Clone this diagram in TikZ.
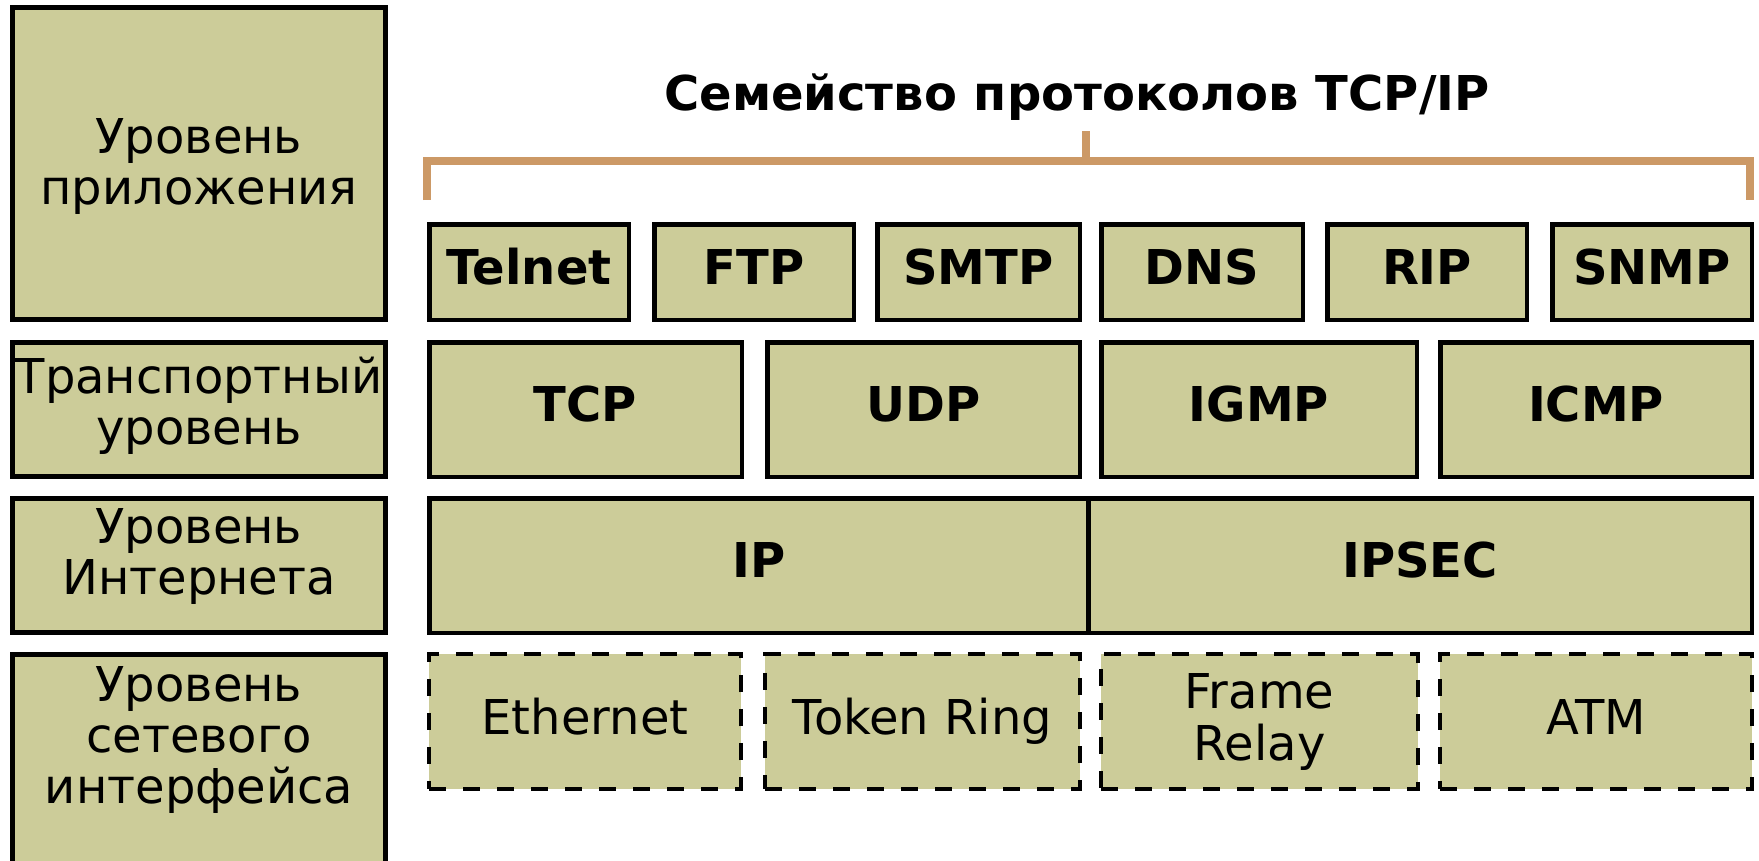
\documentclass[tikz,border=0pt]{standalone}
\usepackage{fontspec}
\setmainfont{DejaVu Sans}
\definecolor{boxfill}{HTML}{CCCC99}
\definecolor{bracecol}{HTML}{CC9966}
\tikzset{
  basebox/.style={draw=black, fill=boxfill, line width=4.5pt, inner sep=0pt, outer sep=0pt},
  layerbox/.style={basebox, line width=5pt},
  protobox/.style={basebox, font=\fontsize{48}{51}\bfseries\selectfont, text height=35pt, text depth=11pt},
  linkbox/.style={basebox, line width=4pt, dash pattern=on 17pt off 17pt, font=\fontsize{48}{52}\selectfont, align=center},
  layertext/.style={font=\fontsize{48}{51}\selectfont, align=center, inner sep=0pt},
  bracketline/.style={draw=bracecol, line width=8pt},
}
\newcommand\pbox[7]{%
  \node[#1, minimum width={#5-#3-4.5}, minimum height={#6-#4-4.5}] (#2) at ({(#3+#5)/2},{(#4+#6)/2}) {#7};}
\begin{document}
\begin{tikzpicture}[x=1pt, y=-1pt]
\useasboundingbox (0,0) rectangle (1759,860);
% left column
\pbox{layerbox}{lapp}{10}{5}{388}{322}{}
\pbox{layerbox}{ltrans}{10}{340}{388}{479}{}
\pbox{layerbox}{linet}{10}{496}{388}{635}{}
\pbox{layerbox}{lnet}{10}{652}{388}{900}{}
\node[layertext] (tapp) at (199,166.7) {Уровень\\приложения};
\node[layertext] (ttrans) at (199,406.2) {Транспортный\\уровень};
\node[layertext] (tinet) at (199,556.7) {Уровень\\Интернета};
\node[layertext] (tnet) at (199,740.2) {Уровень\\сетевого\\интерфейса};
% title and bracket
\node[font=\fontsize{48}{51}\bfseries\selectfont, anchor=base, inner sep=0pt] (title) at (1077,110) {Семейство протоколов TCP/IP};
\coordinate (bl) at (427,200);
\coordinate (blt) at (427,161);
\coordinate (brt) at (1750,161);
\coordinate (br) at (1750,200);
\coordinate (bm) at (1086,161);
\coordinate (bmt) at (1086,131);
\draw[bracketline] (bl) -- (blt) -- (brt) -- (br);
\draw[bracketline] (bm) -- (bmt);
% application protocols
\pbox{protobox}{telnet}{427}{222}{631}{322}{Telnet}
\pbox{protobox}{ftp}{652}{222}{856}{322}{FTP}
\pbox{protobox}{smtp}{875}{222}{1082}{322}{SMTP}
\pbox{protobox}{dns}{1099}{222}{1305}{322}{DNS}
\pbox{protobox}{rip}{1325}{222}{1529}{322}{RIP}
\pbox{protobox}{snmp}{1550}{222}{1754}{322}{SNMP}
% transport
\pbox{protobox}{tcp}{427}{340}{744}{479}{TCP}
\pbox{protobox}{udp}{765}{340}{1082}{479}{UDP}
\pbox{protobox}{igmp}{1099}{340}{1419}{479}{IGMP}
\pbox{protobox}{icmp}{1438}{340}{1754}{479}{ICMP}
% internet
\pbox{protobox}{ip}{427}{496}{1090.5}{635}{IP}
\pbox{protobox}{ipsec}{1086}{496}{1754}{635}{IPSEC}
% network interface
\pbox{linkbox}{eth}{427}{652}{743}{791}{\vphantom{Rg}Ethernet}
\pbox{linkbox}{tr}{763}{652}{1082}{791}{Token Ring}
\pbox{linkbox}{fr}{1099}{652}{1420}{791}{Frame\\Relay}
\pbox{linkbox}{atm}{1438}{652}{1754}{791}{\vphantom{Rg}ATM}
\end{tikzpicture}
\end{document}
